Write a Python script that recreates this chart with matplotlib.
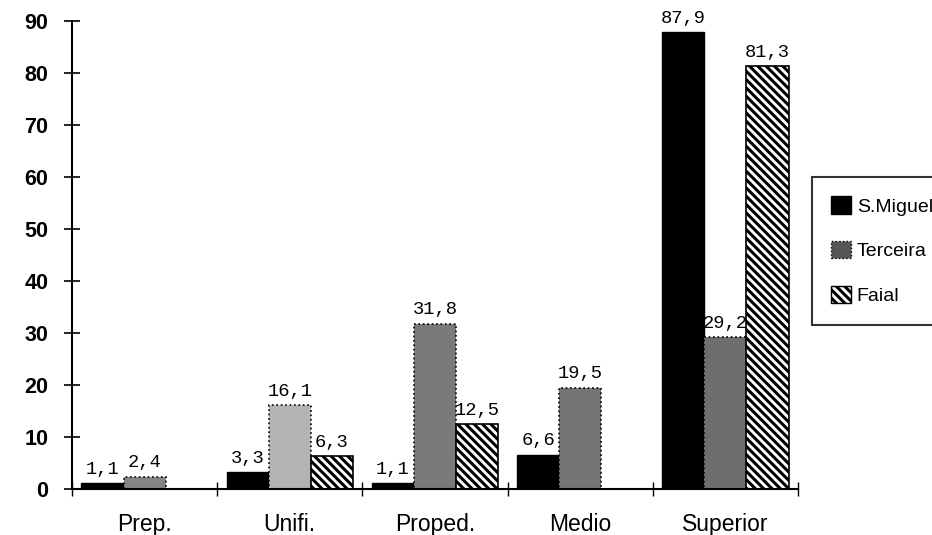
import numpy as np
import matplotlib
matplotlib.use("Agg")
import matplotlib.pyplot as plt
from matplotlib.patches import Patch

categories = ["Prep.", "Unifi.", "Proped.", "Medio", "Superior"]
series_names = ["S.Miguel", "Terceira", "Faial"]
s_miguel = [1.1, 3.3, 1.1, 6.6, 87.9]
terceira = [2.4, 16.1, 31.8, 19.5, 29.2]
faial = [np.nan, 6.3, 12.5, np.nan, 81.3]
y_ticks = [0, 10, 20, 30, 40, 50, 60, 70, 80, 90]

plt.rcParams['hatch.linewidth'] = 2.2
fig = plt.figure(figsize=(9.32, 5.35), dpi=100)
ax = fig.add_axes([72/932, 1-489/535, (798-72)/932, (489-21)/535])

x = np.arange(len(categories)) + 0.5
w = 0.29
terc_colors = ['#858585', '#b3b3b3', '#7a7a7a', '#747474', '#6e6e6e']

ax.bar(x - w, s_miguel, w, color='black', edgecolor='black', linewidth=1)
ax.bar(x, terceira, w, color=terc_colors, edgecolor='black', linewidth=1.2, linestyle=':')
ax.bar(x + w, faial, w, color='white', edgecolor='black', linewidth=1.2, hatch='\\\\\\\\')

def fmt(v):
    return f"{v:.1f}".replace('.', ',')

for xs, vals in [(x - w, s_miguel), (x, terceira), (x + w, faial)]:
    for xi, v in zip(xs, vals):
        if np.isnan(v):
            continue
        ax.text(xi, v + 1.0, fmt(v), ha='center', va='bottom',
                family='Liberation Mono', fontsize=13.5, color='black')

ax.set_xlim(0, 5)
ax.set_ylim(0, 90)
ax.set_yticks(y_ticks)
ax.set_yticklabels([str(t) for t in y_ticks], family='Liberation Sans',
                   fontsize=15.5, fontweight='bold')
ax.set_xticks(np.arange(0, 6))
ax.set_xticklabels([])
for xi, c in zip(x, categories):
    ax.text(xi, -6.8, c, ha='center', va='center', family='Liberation Sans',
            fontsize=16.5, color='black')

for s in ['top', 'right']:
    ax.spines[s].set_visible(False)
ax.spines['left'].set_linewidth(1.5)
ax.spines['bottom'].set_linewidth(1.5)
ax.tick_params(axis='y', direction='inout', length=12, width=1.2, pad=11)
ax.tick_params(axis='x', direction='inout', length=10, width=1.0)

handles = [Patch(facecolor='black', edgecolor='black'),
           Patch(facecolor='#555555', edgecolor='black', linestyle=':'),
           Patch(facecolor='white', edgecolor='black', hatch='\\\\\\\\')]
leg = fig.legend(handles, series_names, loc='upper left',
                 bbox_to_anchor=(812/932, 1-177/535),
                 prop={'family': 'Liberation Sans', 'size': 14},
                 frameon=True, fancybox=False, handlelength=1.0, handleheight=1.0,
                 labelspacing=1.3, borderpad=1.0, handletextpad=0.3, borderaxespad=0)
leg.get_frame().set_edgecolor('black')
leg.get_frame().set_linewidth(1.5)

fig.savefig("out.png", dpi=100)
